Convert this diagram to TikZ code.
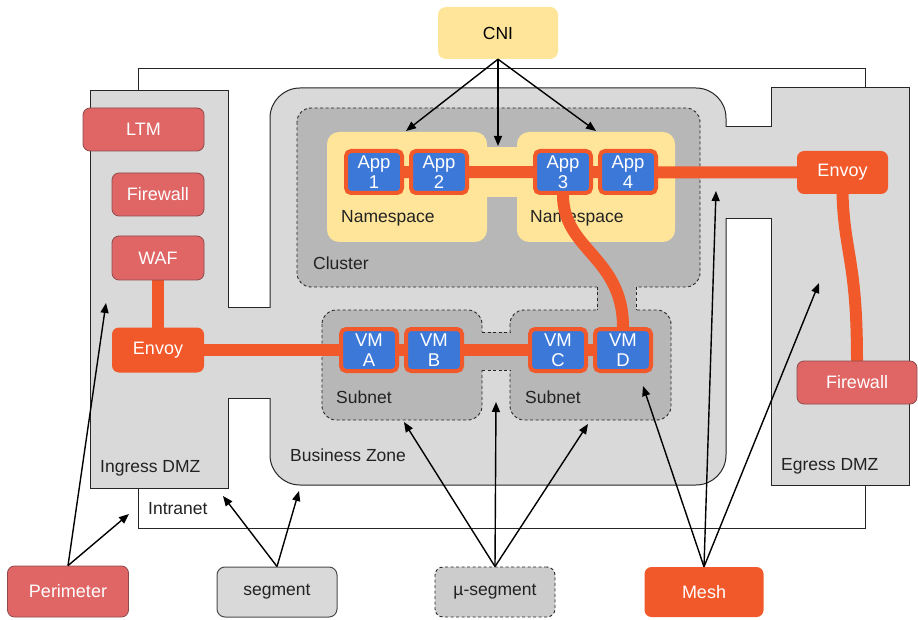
\documentclass[tikz,border=0pt]{standalone}
\usepackage{fontspec}
\setmainfont{Liberation Sans}
\usetikzlibrary{arrows.meta}

\definecolor{zonegray}{HTML}{D9D9D9}
\definecolor{groupgray}{HTML}{B7B7B7}
\definecolor{nsyellow}{HTML}{FFE599}
\definecolor{appblue}{HTML}{3C78D8}
\definecolor{meshorange}{HTML}{F1592A}
\definecolor{secred}{HTML}{E06666}
\definecolor{secline}{HTML}{8E4A4A}
\definecolor{ink}{HTML}{222222}

\pgfdeclarelayer{zones}
\pgfdeclarelayer{pipes}
\pgfsetlayers{zones,pipes,main}

\tikzset{
  zoneline/.style={draw=black!85, line width=1pt},
  zonefill/.style={fill=zonegray, zoneline},
  grpline/.style={draw=black!85, line width=0.9pt, dash pattern=on 3pt off 2.5pt},
  grpfill/.style={fill=groupgray, grpline},
  zonelabel/.style={text=ink, anchor=west, inner sep=0pt},
  workload/.style={fill=appblue, draw=meshorange, line width=4pt, rounded corners=5pt,
    minimum width=56pt, minimum height=42pt, inner sep=0pt, text=white, align=center,
    font=\fontsize{18.5}{20.5}\selectfont},
  proxy/.style={fill=meshorange, rounded corners=7pt, inner sep=0pt, text=white,
    font=\fontsize{18}{20}\selectfont},
  secbox/.style={fill=secred, draw=secline, line width=0.8pt, rounded corners=7pt,
    inner sep=0pt, text=white, font=\fontsize{18}{20}\selectfont},
  pipe/.style={draw=meshorange, line width=12pt},
  pointer/.style={-{Triangle[length=10pt,width=8pt]}, line width=1.4pt, draw=black},
}

\begin{document}
\begin{tikzpicture}[x=1pt, y=-1pt, font=\fontsize{17.5}{20}\selectfont]
\useasboundingbox (0,0) rectangle (918,620);

% ---------- boxes in front ----------
\node[fill=nsyellow, rounded corners=8pt, minimum width=120pt, minimum height=52pt, inner sep=0pt]
  (cni) at (498,33) {CNI};

\node[secbox, minimum width=121pt, minimum height=43pt] (ltm) at (143.5,129.5) {LTM};
\node[secbox, minimum width=92pt, minimum height=43pt] (fwin) at (158,194.5) {Firewall};
\node[secbox, minimum width=92pt, minimum height=44pt] (waf) at (158,258) {WAF};
\node[proxy, minimum width=92pt, minimum height=45pt] (envin) at (158,350) {Envoy};

\node[workload] (app1) at (374,172) {App\\1};
\node[workload] (app2) at (439,172) {App\\2};
\node[workload] (app3) at (563,172) {App\\3};
\node[workload] (app4) at (628,172) {App\\4};

\node[proxy, minimum width=91pt, minimum height=43pt] (envout) at (842.5,172.5) {Envoy};
\node[secbox, minimum width=120pt, minimum height=43pt] (fwout) at (857,382.5) {Firewall};

\node[workload] (vma) at (369,350) {VM\\A};
\node[workload] (vmb) at (434,350) {VM\\B};
\node[workload] (vmc) at (558,350) {VM\\C};
\node[workload] (vmd) at (623,350) {VM\\D};

\node[secbox, minimum width=121pt, minimum height=51pt] (perimeter) at (68,591.5) {Perimeter};
\node[fill=zonegray, draw=black!70, line width=1pt, rounded corners=8pt, inner sep=0pt,
  minimum width=120pt, minimum height=50pt, text=ink] (segment) at (277,592) {segment};
\node[fill=black!20, grpline, rounded corners=8pt, inner sep=0pt,
  minimum width=120pt, minimum height=50pt, text=ink] (museg) at (495,592) {µ-segment};
\node[proxy, minimum width=119pt, minimum height=50pt] (mesh) at (704,592) {Mesh};

% ---------- zones ----------
\begin{pgfonlayer}{zones}
  % Intranet
  \draw[zoneline, fill=white] (138,69) rectangle (865,528);
  % Ingress DMZ, Business Zone, Egress DMZ
  \filldraw[zonefill] (90,91) rectangle (228,488);
  \filldraw[zonefill, rounded corners=30pt] (270,88) rectangle (726,485);
  \filldraw[zonefill] (771,88) rectangle (909,485);
  % passages joining the zones
  \fill[zonegray] (226,307.5) rectangle (272,397.5);
  \draw[zoneline] (228,307) -- (270,307) (228,398) -- (270,398);
  \fill[zonegray] (724,127.5) rectangle (773,218.5);
  \draw[zoneline] (726,127) -- (771,127) (726,219) -- (771,219);

  % Cluster and subnets
  \filldraw[grpfill, rounded corners=14pt] (297,108) rectangle (700,287);
  \filldraw[grpfill, rounded corners=14pt] (322,310) rectangle (482,420);
  \filldraw[grpfill, rounded corners=14pt] (510,310) rectangle (671,420);
  \fill[groupgray] (597,285) rectangle (636,312);
  \draw[grpline] (597,287) -- (597,310) (636,287) -- (636,310);
  \fill[groupgray] (480,332) rectangle (512,370);
  \draw[grpline] (482,332) -- (510,332) (482,370) -- (510,370);

  % Namespaces
  \fill[nsyellow, rounded corners=12pt] (327,132) rectangle (487,242);
  \fill[nsyellow, rounded corners=12pt] (517,132) rectangle (675,242);
  \fill[nsyellow] (480,147) rectangle (524,197);

  % zone labels
  \node[zonelabel] (lblnsa) at (341,218) {Namespace};
  \node[zonelabel] (lblnsb) at (530,218) {Namespace};
  \node[zonelabel] (lblcluster) at (313,263) {Cluster};
  \node[zonelabel] (lblsubneta) at (336,397) {Subnet};
  \node[zonelabel] (lblsubnetb) at (525,397) {Subnet};
  \node[zonelabel] (lblbiz) at (290,455) {Business Zone};
  \node[zonelabel] (lblingress) at (100,468) {Ingress DMZ};
  \node[zonelabel] (lblegress) at (781,466) {Egress DMZ};
  \node[zonelabel] (lblintranet) at (148,509) {Intranet};
\end{pgfonlayer}

% ---------- mesh traffic ----------
\begin{pgfonlayer}{pipes}
  \draw[pipe] (app1.center) -- (envout.center);
  \draw[pipe] (waf.center) -- (envin.center);
  \draw[pipe] (envin.center) -- (vmd.center);
  \draw[pipe] (app3.center) -- (app3.south)
    .. controls +(0,55) and +(0,-70) .. (vmd.north) -- (vmd.center);
  \draw[pipe] (envout.center) -- (envout.south)
    .. controls +(2,60) and +(0,-100) .. (fwout.north) -- (fwout.center);
\end{pgfonlayer}

% ---------- pointers ----------
\coordinate (cniA) at (406,131);
\coordinate (cniB) at (498,146);
\coordinate (cniC) at (596,131);
\draw[pointer] (cni.south) -- (cniA);
\draw[pointer] (cni.south) -- (cniB);
\draw[pointer] (cni.south) -- (cniC);

\coordinate (perA) at (106,303);
\coordinate (perB) at (129,514);
\draw[pointer] (perimeter.north) -- (perA);
\draw[pointer] (perimeter.north) -- (perB);

\coordinate (segA) at (223,496);
\coordinate (segB) at (299,491);
\draw[pointer] (segment.north) -- (segA);
\draw[pointer] (segment.north) -- (segB);

\coordinate (musA) at (404,422);
\coordinate (musB) at (496,402);
\coordinate (musC) at (588,424);
\draw[pointer] (museg.north) -- (musA);
\draw[pointer] (museg.north) -- (musB);
\draw[pointer] (museg.north) -- (musC);

\coordinate (meshA) at (643,386);
\coordinate (meshB) at (716,191);
\coordinate (meshC) at (819,283);
\draw[pointer] (mesh.north) -- (meshA);
\draw[pointer] (mesh.north) -- (meshB);
\draw[pointer] (mesh.north) -- (meshC);
\end{tikzpicture}
\end{document}
